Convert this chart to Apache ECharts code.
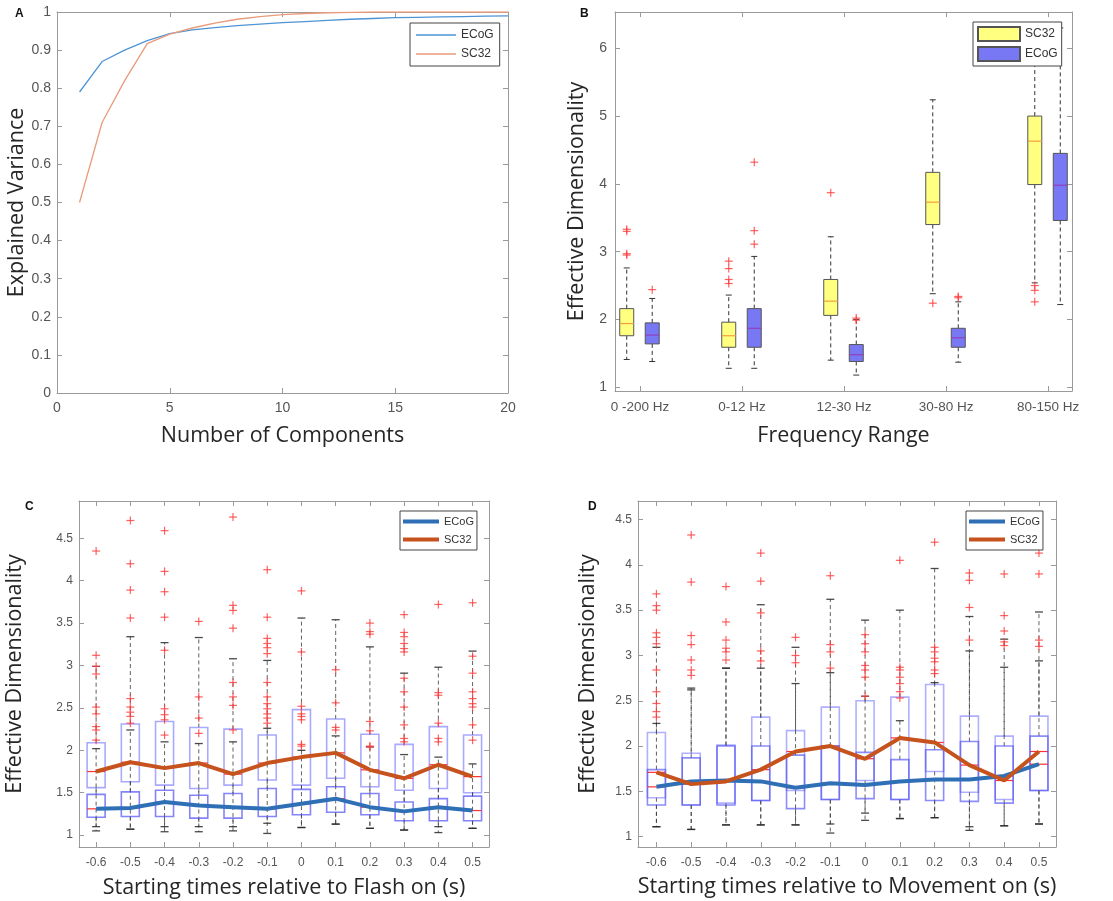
<!DOCTYPE html>
<html><head><meta charset="utf-8">
<script src="https://cdn.jsdelivr.net/npm/echarts@6/dist/echarts.min.js"></script>
<style>html,body{margin:0;padding:0;background:#fff}#c{width:1113px;height:901px}</style>
</head><body><div id="c"></div>
<script>
// ---------- Panel A ----------
const aComponents = [1,2,3,4,5,6,7,8,9,10,11,12,13,14,15,16,17,18,19,20];
const aECoG = [0.79,0.87,0.90,0.925,0.943,0.953,0.959,0.964,0.968,0.972,0.975,0.978,0.981,0.983,0.985,0.986,0.987,0.988,0.989,0.99];
const aSC32 = [0.50,0.71,0.82,0.917,0.942,0.958,0.971,0.981,0.988,0.993,0.996,0.998,0.999,1.0,1.0,1.0,1.0,1.0,1.0,1.0];

// ---------- Panel B ----------  [lower whisker, q1, median, q3, upper whisker]
const bCategories = ['0 -200 Hz','0-12 Hz','12-30 Hz','30-80 Hz','80-150 Hz'];
const bSC32 = [[1.41,1.76,1.94,2.16,2.76],[1.28,1.59,1.76,1.96,2.36],[1.40,2.06,2.27,2.59,3.22],[2.38,3.40,3.73,4.17,5.24],[2.54,3.99,4.63,5.00,6.30]];
const bECoG = [[1.38,1.64,1.77,1.95,2.31],[1.28,1.59,1.87,2.16,2.93],[1.18,1.38,1.48,1.63,2.00],[1.37,1.59,1.73,1.87,2.26],[2.22,3.46,3.98,4.45,6.30]];
const bOutSC32 = [[1,3.33],[1,3.30],[1,2.97],[1,2.95],[2,2.86],[2,2.75],[2,2.59],[2,2.53],[3,3.87],[4,2.24],[5,2.50],[5,2.43],[5,2.26]];
const bOutECoG = [[1,2.44],[2,4.32],[2,3.31],[2,3.11],[3,2.02],[3,1.99],[4,2.34],[4,2.32]];

// ---------- Panels C and D ----------
const cdTickLabels = ['-0.6','-0.5','-0.4','-0.3','-0.2','-0.1','0','0.1','0.2','0.3','0.4','0.5'];
const cdYTicks = [1,1.5,2,2.5,3,3.5,4,4.5];
// Panel C (Flash)   boxes: [lower whisker, q1, median, q3, upper whisker]
const cSC32Box = [[1.05,1.56,1.75,2.09,2.99],[1.07,1.63,1.86,2.31,3.34],[1.04,1.59,1.79,2.34,3.27],[1.04,1.55,1.85,2.27,3.33],[1.05,1.59,1.72,2.25,3.08],[1.02,1.65,1.85,2.18,3.06],[1.09,1.59,1.92,2.48,3.56],[1.13,1.67,1.97,2.37,3.54],[1.08,1.57,1.77,2.19,3.22],[1.06,1.53,1.67,2.07,2.91],[1.03,1.55,1.83,2.28,2.98],[1.08,1.50,1.69,2.18,3.17]];
const cECoGBox = [[1.10,1.21,1.31,1.48,2.02],[1.07,1.22,1.32,1.51,2.24],[1.10,1.22,1.39,1.53,2.10],[1.10,1.20,1.35,1.47,2.08],[1.10,1.20,1.33,1.49,2.10],[1.14,1.22,1.31,1.55,2.26],[1.09,1.24,1.37,1.54,2.00],[1.13,1.27,1.43,1.57,2.17],[1.08,1.24,1.33,1.49,2.04],[1.06,1.17,1.28,1.39,1.95],[1.10,1.17,1.33,1.43,1.92],[1.08,1.17,1.29,1.46,1.84]];
const cECoGLine = [1.31,1.32,1.39,1.35,1.33,1.31,1.37,1.43,1.33,1.28,1.33,1.29];
const cSC32Line = [1.75,1.86,1.79,1.85,1.72,1.85,1.92,1.97,1.77,1.67,1.83,1.69];
const cOutliers = [
  [4.35,3.12,2.99,2.9,2.51,2.43,2.28,2.24,2.12],
  [4.71,4.20,3.89,3.56,2.61,2.51,2.45,2.40,2.32],
  [4.59,4.11,3.87,3.57,3.18,2.49,2.42,2.36,2.18],
  [3.52,2.63,2.38,2.20],
  [4.75,3.71,3.65,3.44,2.80,2.63,2.53,2.24],
  [4.13,3.57,3.32,3.26,3.21,3.14,2.80,2.63,2.55,2.49,2.43,2.38,2.32],
  [3.88,3.16,2.52,2.43,2.40,2.36,2.07,2.05],
  [2.95,2.56,2.27,2.24],
  [3.50,3.40,3.37,2.34,2.23,2.05,2.04],
  [3.60,3.39,3.34,3.26,3.20,3.16,2.85,2.69,2.51,2.30,2.14,2.10],
  [3.72,2.68,2.65,2.32,2.14,2.10],
  [3.74,3.11,2.91,2.69,2.61,2.55,2.51,2.30,2.12]
];
// Panel D (Movement)
const dSC32Box = [[1.11,1.43,1.71,2.15,3.09],[1.08,1.35,1.58,1.92,2.64],[1.13,1.37,1.61,2.01,2.86],[1.13,1.40,1.74,2.32,3.56],[1.13,1.51,1.94,2.17,3.09],[1.04,1.41,2.00,2.43,3.62],[1.18,1.62,1.86,2.50,3.39],[1.20,1.41,2.09,2.54,3.50],[1.21,1.72,2.04,2.68,3.96],[1.07,1.49,1.79,2.33,3.43],[1.12,1.41,1.62,2.11,3.18],[1.14,1.51,1.94,2.33,3.48]];
const dECoGBox = [[1.11,1.35,1.55,1.74,2.25],[1.08,1.35,1.61,1.87,2.62],[1.13,1.35,1.62,2.00,2.86],[1.13,1.40,1.61,2.00,2.86],[1.13,1.31,1.54,1.90,2.69],[1.14,1.41,1.59,2.00,2.81],[1.26,1.42,1.57,1.93,2.55],[1.20,1.41,1.61,1.85,2.28],[1.21,1.40,1.63,1.96,2.70],[1.11,1.39,1.63,2.05,3.05],[1.12,1.37,1.67,2.00,2.87],[1.14,1.51,1.80,2.11,2.94]];
const dECoGLine = [1.55,1.61,1.62,1.61,1.54,1.59,1.57,1.61,1.63,1.63,1.67,1.80];
const dSC32Line = [1.71,1.58,1.61,1.74,1.94,2.00,1.86,2.09,2.04,1.79,1.62,1.94];
const dOutliers = [
  [3.68,3.55,3.50,3.25,3.20,3.13,2.84,2.60,2.47,2.38,2.32],
  [4.33,3.81,3.22,3.12,2.95,2.84,2.78],
  [3.76,3.37,3.17,3.08,3.04,2.95],
  [4.13,3.82,3.47,3.05,2.94],
  [3.20,3.00,2.92],
  [3.88,3.12,3.04,2.86],
  [3.23,3.13,3.04,2.89,2.84,2.76,2.55],
  [4.05,2.87,2.84,2.76,2.69,2.60,2.53],
  [4.25,3.09,3.04,2.97,2.93,2.84,2.80],
  [3.91,3.83,3.53,3.17],
  [3.90,3.44,3.27,3.15,3.11],
  [4.13,3.90,3.17,3.10]
];

// ---------- styling ----------
const AX = '#9a9a9a', LAB = '#555', NAMEC = '#262626';
const TICKFONT = 'Liberation Sans, Arial, sans-serif';
const NAMEFONT = 'Open Sans, Noto Sans, sans-serif';
const NAMESIZE = 21.5;
const cdX = cdTickLabels.map(Number);

function xAxes(gi, o) {
  const common = {type:'value', gridIndex:gi, min:o.min, max:o.max, interval:o.interval,
    splitLine:{show:false},
    axisLine:{show:true, onZero:false, lineStyle:{color:AX, width:1}},
    axisTick:{show:true, inside:true, length:5, lineStyle:{color:AX}, customValues:o.ticks}};
  return [
    Object.assign({}, common, {position:'bottom',
      axisLabel:{show:true, color:LAB, fontSize:o.fs, fontFamily:TICKFONT, margin:o.margin, customValues:o.ticks, formatter:o.fmt},
      name:o.name, nameLocation:'middle', nameGap:o.nameGap,
      nameTextStyle:{color:NAMEC, fontSize:NAMESIZE, fontFamily:NAMEFONT}}),
    Object.assign({}, common, {position:'top', axisLabel:{show:false}})
  ];
}
function yAxes(gi, o) {
  const common = {type:'value', gridIndex:gi, min:o.min, max:o.max, interval:o.interval,
    splitLine:{show:false},
    axisLine:{show:true, onZero:false, lineStyle:{color:AX, width:1}},
    axisTick:{show:true, inside:true, length:5, lineStyle:{color:AX}, customValues:o.ticks}};
  return [
    Object.assign({}, common, {position:'left',
      axisLabel:{show:true, color:LAB, fontSize:o.fs, fontFamily:TICKFONT, margin:o.margin, customValues:o.ticks, formatter:o.fmt},
      name:o.name, nameLocation:'middle', nameGap:o.nameGap,
      nameTextStyle:{color:NAMEC, fontSize:NAMESIZE, fontFamily:NAMEFONT}}),
    Object.assign({}, common, {position:'right', axisLabel:{show:false}})
  ];
}
function fmtNum(v){ return String(Math.round(v*10)/10); }

// box renderers
function bBox(offset, fill, median) {
  return function(params, api) {
    const x = api.value(0) + offset;
    const P = v => api.coord([x, v]);
    const cx = P(api.value(2))[0];
    const yLo = P(api.value(1))[1], yQ1 = P(api.value(2))[1], yMed = P(api.value(3))[1],
          yQ3 = P(api.value(4))[1], yHi = P(api.value(5))[1];
    const W = 14, C = 6;
    const dash = {stroke:'#333', lineWidth:1, lineDash:[4,3]};
    const cap = {stroke:'#333', lineWidth:1};
    return {type:'group', children:[
      {type:'line', shape:{x1:cx,y1:yQ3,x2:cx,y2:yHi}, style:dash},
      {type:'line', shape:{x1:cx,y1:yQ1,x2:cx,y2:yLo}, style:dash},
      {type:'line', shape:{x1:cx-C/2,y1:yHi,x2:cx+C/2,y2:yHi}, style:cap},
      {type:'line', shape:{x1:cx-C/2,y1:yLo,x2:cx+C/2,y2:yLo}, style:cap},
      {type:'rect', shape:{x:cx-W/2,y:yQ3,width:W,height:yQ1-yQ3}, style:{fill:fill, stroke:'#555', lineWidth:1}},
      {type:'line', shape:{x1:cx-W/2,y1:yMed,x2:cx+W/2,y2:yMed}, style:{stroke:median, lineWidth:1.2}}
    ]};
  };
}
function cdBox(color, alpha) {
  return function(params, api) {
    const x = api.value(0);
    const P = v => api.coord([x, v]);
    const cx = P(api.value(2))[0];
    const yLo = P(api.value(1))[1], yQ1 = P(api.value(2))[1], yMed = P(api.value(3))[1],
          yQ3 = P(api.value(4))[1], yHi = P(api.value(5))[1];
    const W = 18, C = 8;
    const dash = {stroke:'#3a3a3a', lineWidth:1, lineDash:[4,3], opacity:0.8};
    const cap = {stroke:'#2a2a2a', lineWidth:1.3, opacity:0.85};
    return {type:'group', children:[
      {type:'line', shape:{x1:cx,y1:yQ3,x2:cx,y2:yHi}, style:dash},
      {type:'line', shape:{x1:cx,y1:yQ1,x2:cx,y2:yLo}, style:dash},
      {type:'line', shape:{x1:cx-C/2,y1:yHi,x2:cx+C/2,y2:yHi}, style:cap},
      {type:'line', shape:{x1:cx-C/2,y1:yLo,x2:cx+C/2,y2:yLo}, style:cap},
      {type:'rect', shape:{x:cx-W/2,y:yQ3,width:W,height:yQ1-yQ3}, style:{fill:'none', stroke:color, lineWidth:1.6, opacity:alpha}},
      {type:'line', shape:{x1:cx-W/2,y1:yMed,x2:cx+W/2,y2:yMed}, style:{stroke:'#ff3030', lineWidth:1.2}}
    ]};
  };
}
function plusMark(offset, size) {
  return function(params, api) {
    const p = api.coord([api.value(0) + offset, api.value(1)]);
    const h = size/2;
    const st = {stroke:'#ff3b3b', lineWidth:1.2, opacity:0.8};
    return {type:'group', children:[
      {type:'line', shape:{x1:p[0]-h,y1:p[1],x2:p[0]+h,y2:p[1]}, style:st},
      {type:'line', shape:{x1:p[0],y1:p[1]-h,x2:p[0],y2:p[1]+h}, style:st}
    ]};
  };
}
function flatOutliers(arr) {
  const out = [];
  arr.forEach((vals, i) => vals.forEach(v => out.push([cdX[i], v])));
  return out;
}
const legendName = n => n.split('_')[0];
const legendBase = {orient:'vertical', backgroundColor:'#fff', borderColor:'#444', borderWidth:1, borderRadius:0, selectedMode:false, formatter:legendName};

const chart = echarts.init(document.getElementById('c'), null, {renderer:'canvas'});
const option = {
  backgroundColor:'#fff',
  animation:false,
  title:[
    {text:'A', left:15, top:8, padding:0, textStyle:{fontSize:12, fontWeight:'bold', color:'#111', fontFamily:TICKFONT}},
    {text:'B', left:580, top:8, padding:0, textStyle:{fontSize:12, fontWeight:'bold', color:'#111', fontFamily:TICKFONT}},
    {text:'C', left:25, top:501, padding:0, textStyle:{fontSize:12, fontWeight:'bold', color:'#111', fontFamily:TICKFONT}},
    {text:'D', left:588, top:501, padding:0, textStyle:{fontSize:12, fontWeight:'bold', color:'#111', fontFamily:TICKFONT}}
  ],
  grid:[
    {left:57, top:12, width:451, height:381},
    {left:615, top:12, width:457, height:379},
    {left:79, top:501, width:410, height:346},
    {left:638, top:501, width:418, height:346}
  ],
  xAxis:[].concat(
    xAxes(0, {min:0, max:20, interval:5, fs:14, margin:8, name:'Number of Components', nameGap:32}),
    xAxes(1, {min:0.755, max:5.235, ticks:[1,2,3,4,5], fs:13.5, margin:9, fmt:v => bCategories[Math.round(v)-1], name:'Frequency Range', nameGap:34}),
    xAxes(2, {min:-0.65, max:0.548, ticks:cdX, fs:12, margin:10, fmt:fmtNum, name:'Starting times relative to Flash on (s)', nameGap:30}),
    xAxes(3, {min:-0.653, max:0.549, ticks:cdX, fs:12, margin:10, fmt:fmtNum, name:'Starting times relative to Movement on (s)', nameGap:29})
  ),
  yAxis:[].concat(
    yAxes(0, {min:0, max:1, interval:0.1, fs:14, margin:6, fmt:fmtNum, name:'Explained Variance', nameGap:29}),
    yAxes(1, {min:0.945, max:6.535, ticks:[1,2,3,4,5,6], fs:14, margin:8, name:'Effective Dimensionality', nameGap:27}),
    yAxes(2, {min:0.86, max:4.94, ticks:cdYTicks, fs:12, margin:6, fmt:v => String(v), name:'Effective Dimensionality', nameGap:53}),
    yAxes(3, {min:0.886, max:4.705, ticks:cdYTicks, fs:12, margin:6, fmt:v => String(v), name:'Effective Dimensionality', nameGap:39})
  ),
  legend:[
    Object.assign({}, legendBase, {left:410, top:23, padding:[5,6], itemGap:5, itemWidth:40, itemHeight:1.5,
     data:[{name:'ECoG_A', icon:'rect'},{name:'SC32_A', icon:'rect'}], textStyle:{fontSize:12, color:'#333', fontFamily:TICKFONT, lineHeight:14}}),
    Object.assign({}, legendBase, {left:973, top:22, padding:[4,4], itemGap:4, itemWidth:42, itemHeight:14,
     data:[{name:'SC32_B', icon:'rect'},{name:'ECoG_B', icon:'rect'}], textStyle:{fontSize:12, color:'#333', fontFamily:TICKFONT}}),
    Object.assign({}, legendBase, {left:400, top:511, padding:[4,3], itemGap:5, itemWidth:36, itemHeight:4,
     data:[{name:'ECoG_C', icon:'rect'},{name:'SC32_C', icon:'rect'}], textStyle:{fontSize:11, color:'#333', fontFamily:TICKFONT, lineHeight:13}}),
    Object.assign({}, legendBase, {left:966, top:511, padding:[4,3], itemGap:5, itemWidth:36, itemHeight:4,
     data:[{name:'ECoG_D', icon:'rect'},{name:'SC32_D', icon:'rect'}], textStyle:{fontSize:11, color:'#333', fontFamily:TICKFONT, lineHeight:13}})
  ],
  series:[
    // A
    {name:'ECoG_A', type:'line', xAxisIndex:0, yAxisIndex:0, symbol:'none', color:'#4d94d6',
     lineStyle:{width:1.3, color:'#4d94d6'}, data:aComponents.map((c,i)=>[c,aECoG[i]])},
    {name:'SC32_A', type:'line', xAxisIndex:0, yAxisIndex:0, symbol:'none', color:'#e99a7a',
     lineStyle:{width:1.3, color:'#e99a7a'}, data:aComponents.map((c,i)=>[c,aSC32[i]])},
    // B
    {name:'SC32_B', type:'custom', xAxisIndex:2, yAxisIndex:2, clip:true,
     itemStyle:{color:'#ffff80', borderColor:'#555', borderWidth:1},
     renderItem:bBox(-0.13, '#ffff80', '#f0a040'), data:bSC32.map((b,i)=>[i+1].concat(b))},
    {name:'ECoG_B', type:'custom', xAxisIndex:2, yAxisIndex:2, clip:true,
     itemStyle:{color:'#7878f5', borderColor:'#555', borderWidth:1},
     renderItem:bBox(0.12, '#7878f5', '#9040b8'), data:bECoG.map((b,i)=>[i+1].concat(b))},
    {name:'outB1', type:'custom', xAxisIndex:2, yAxisIndex:2, clip:true, renderItem:plusMark(-0.13, 8), data:bOutSC32},
    {name:'outB2', type:'custom', xAxisIndex:2, yAxisIndex:2, clip:true, renderItem:plusMark(0.12, 8), data:bOutECoG},
    // C
    {name:'boxC1', type:'custom', xAxisIndex:4, yAxisIndex:4, clip:true, renderItem:cdBox('#7070ff', 0.6), data:cSC32Box.map((b,i)=>[cdX[i]].concat(b))},
    {name:'boxC2', type:'custom', xAxisIndex:4, yAxisIndex:4, clip:true, renderItem:cdBox('#5050f5', 0.7), data:cECoGBox.map((b,i)=>[cdX[i]].concat(b))},
    {name:'outC', type:'custom', xAxisIndex:4, yAxisIndex:4, clip:true, renderItem:plusMark(0, 8), data:flatOutliers(cOutliers)},
    {name:'ECoG_C', type:'line', xAxisIndex:4, yAxisIndex:4, symbol:'none', z:5, color:'#2f6fb6',
     lineStyle:{width:4, color:'#2f6fb6'}, data:cdX.map((x,i)=>[x,cECoGLine[i]])},
    {name:'SC32_C', type:'line', xAxisIndex:4, yAxisIndex:4, symbol:'none', z:5, color:'#c6531d',
     lineStyle:{width:4, color:'#c6531d'}, data:cdX.map((x,i)=>[x,cSC32Line[i]])},
    // D
    {name:'boxD1', type:'custom', xAxisIndex:6, yAxisIndex:6, clip:true, renderItem:cdBox('#7070ff', 0.55), data:dSC32Box.map((b,i)=>[cdX[i]].concat(b))},
    {name:'boxD2', type:'custom', xAxisIndex:6, yAxisIndex:6, clip:true, renderItem:cdBox('#5050f5', 0.65), data:dECoGBox.map((b,i)=>[cdX[i]].concat(b))},
    {name:'outD', type:'custom', xAxisIndex:6, yAxisIndex:6, clip:true, renderItem:plusMark(0, 8), data:flatOutliers(dOutliers)},
    {name:'ECoG_D', type:'line', xAxisIndex:6, yAxisIndex:6, symbol:'none', z:5, color:'#2f6fb6',
     lineStyle:{width:4, color:'#2f6fb6'}, data:cdX.map((x,i)=>[x,dECoGLine[i]])},
    {name:'SC32_D', type:'line', xAxisIndex:6, yAxisIndex:6, symbol:'none', z:5, color:'#c6531d',
     lineStyle:{width:4, color:'#c6531d'}, data:cdX.map((x,i)=>[x,dSC32Line[i]])}
  ]
};
chart.setOption(option);
</script></body></html>
